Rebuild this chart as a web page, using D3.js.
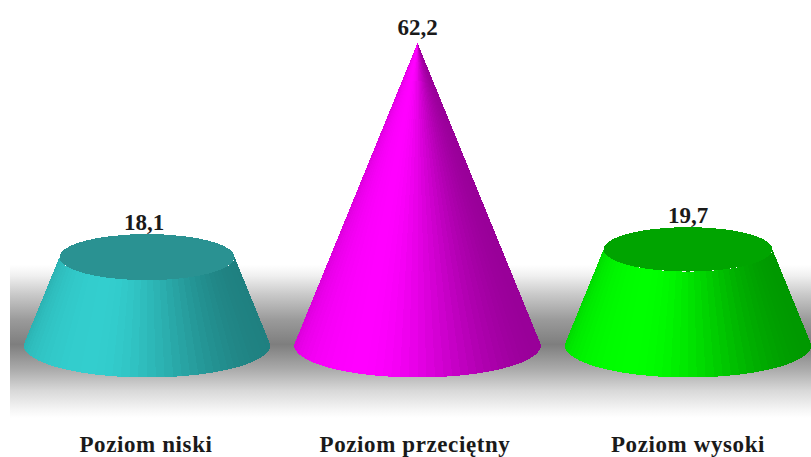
<!DOCTYPE html>
<html>
<head>
<meta charset="utf-8">
<script src="https://cdn.jsdelivr.net/npm/d3@7"></script>
<style>
  html, body { margin: 0; padding: 0; background: #fff; }
  svg { display: block; }
  text { font-family: "Liberation Serif", serif; font-weight: bold; fill: #1a1a1a; text-anchor: middle; }
</style>
</head>
<body>
<svg id="chart" width="811" height="457"></svg>
<script>
// Share of respondents at each level
const categories = ["Poziom niski", "Poziom przeciętny", "Poziom wysoki"];
const values = [18.1, 62.2, 19.7];
const valueLabels = ["18,1", "62,2", "19,7"];
const lightColors = ["#33cece", "#ff00ff", "#00ff00"];
const darkColors = ["#1f8080", "#980098", "#009800"];
const capColors = ["#2a9292", "#b000b0", "#00a400"];

const width = 811, height = 457;
const svg = d3.select("#chart");

const x = d3.scalePoint().domain(categories).range([147, 688]);
const y = d3.scaleLinear().domain([0, 62.2]).range([345, 43]);
// Every frustum is a slice of the same cone, so radius shrinks linearly with value
const radiusX = d3.scaleLinear().domain([0, 62.2]).range([123.5, 0]);
const radiusY = d3.scaleLinear().domain([0, 62.2]).range([32.5, 0]);

// Grey floor band behind the shapes
const defs = svg.append("defs");
const floorStops = [[0, "#ffffff"], [0.07, "#f0f0f0"], [0.19, "#cacaca"], [0.36, "#9a9a9a"], [0.52, "#7e7e7e"], [0.68, "#aaaaaa"], [0.82, "#d8d8d8"], [0.95, "#f6f6f6"], [1, "#ffffff"]];
const floor = defs.append("linearGradient").attr("id", "floor")
  .attr("x1", 0).attr("x2", 0).attr("y1", 0).attr("y2", 1);
floor.selectAll("stop").data(floorStops).join("stop")
  .attr("offset", d => d[0]).attr("stop-color", d => d[1]);
svg.append("rect").attr("x", 10).attr("y", 265).attr("width", width - 10).attr("height", 153)
  .attr("fill", "url(#floor)");

// Side wall facets, lit from the front left; falloff is steeper on the far side
const facetCount = 44;
const angles = d3.range(facetCount + 1).map(i => Math.PI * i / facetCount);
const lightAngle = Math.PI * 0.65;

categories.forEach((cat, i) => {
  const v = values[i];
  const cx = x(cat);
  const rxTop = radiusX(v), ryTop = radiusY(v);
  const rxBase = radiusX(0), ryBase = radiusY(0);
  const g = svg.append("g").attr("shape-rendering", "crispEdges");
  const shade = d3.scaleLinear().domain([0, 1])
    .range([darkColors[i], lightColors[i]]).interpolate(d3.interpolateRgb);
  const facets = d3.pairs(angles);
  g.selectAll("path").data(facets).join("path")
    .attr("d", ([a, b]) => d3.line()([
      [cx + rxBase * Math.cos(a), y(0) + ryBase * Math.sin(a)],
      [cx + rxBase * Math.cos(b), y(0) + ryBase * Math.sin(b)],
      [cx + rxTop * Math.cos(b), y(v) + ryTop * Math.sin(b)],
      [cx + rxTop * Math.cos(a), y(v) + ryTop * Math.sin(a)]
    ]) + "Z")
    .attr("fill", ([a, b]) => {
      const mid = (a + b) / 2;
      const t = 0.5 + 0.5 * Math.cos(mid - lightAngle);
      return shade(Math.pow(t, mid < lightAngle ? 5 : 1.5));
    });
  if (rxTop > 0.5) {
    g.append("ellipse")
      .attr("cx", cx).attr("cy", y(v))
      .attr("rx", rxTop).attr("ry", ryTop)
      .attr("fill", capColors[i]);
  }
});

// Value above each shape; the apex of the tallest one sits closer to its text
const maxValue = d3.max(values);
svg.selectAll(".value").data(categories).join("text")
  .attr("class", "value")
  .attr("x", d => x(d) - (d === categories[0] ? 3 : 0))
  .attr("y", (d, i) => y(values[i]) - radiusY(values[i]) - (values[i] === maxValue ? 8 : 4))
  .attr("font-size", 23)
  .text((d, i) => valueLabels[i]);

// Category names along the bottom
const labelX = [146, 415, 688];
svg.selectAll(".cat").data(categories).join("text")
  .attr("class", "cat")
  .attr("x", (d, i) => labelX[i])
  .attr("y", 452)
  .attr("font-size", 23)
  .attr("letter-spacing", 0.6)
  .text(d => d);
</script>
</body>
</html>
